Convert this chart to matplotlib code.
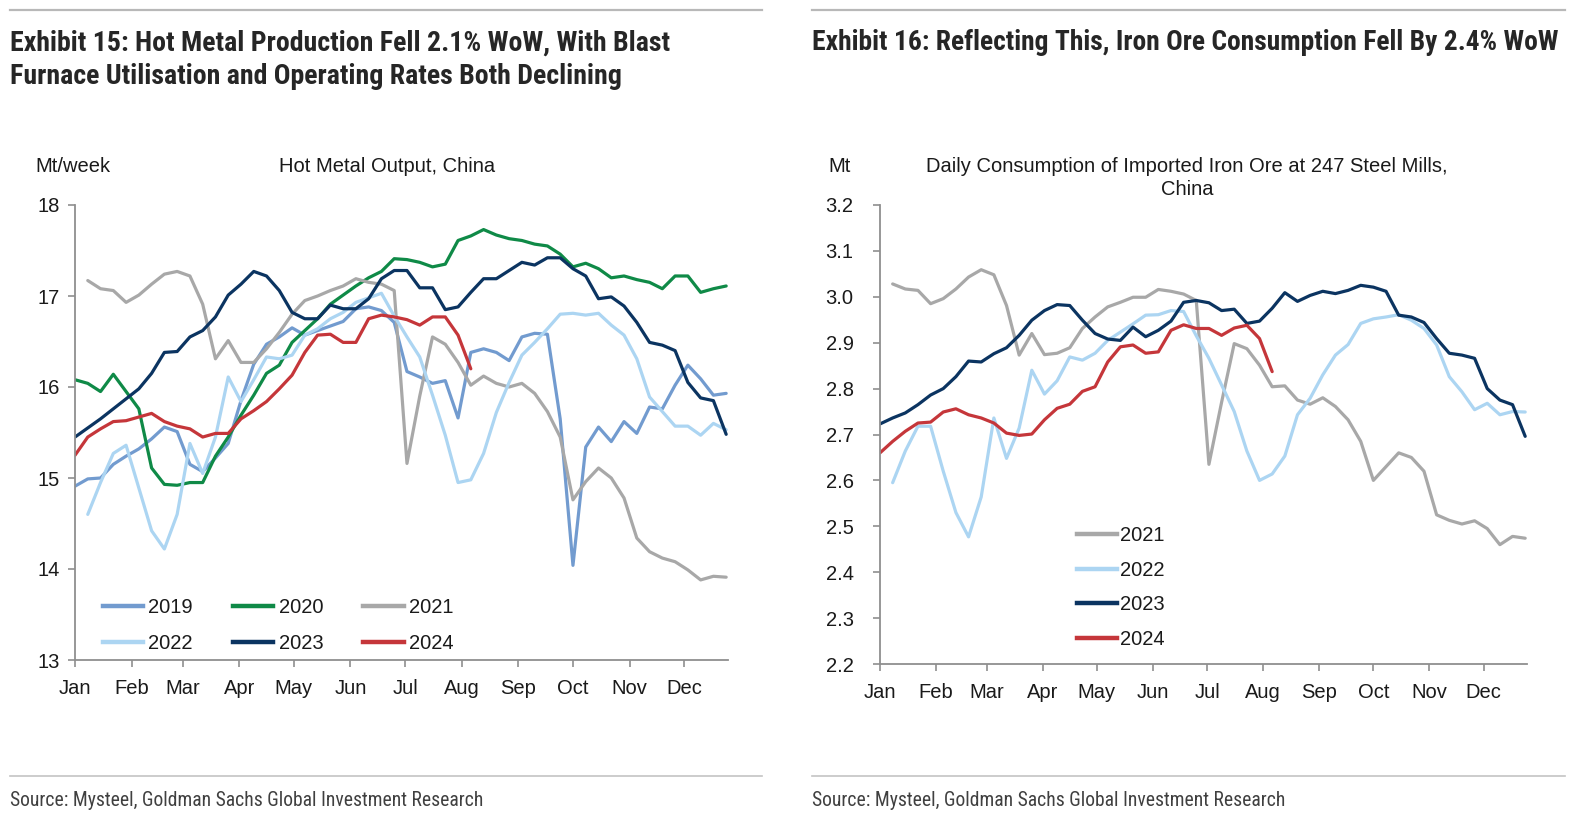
import numpy as np
import matplotlib
matplotlib.use("Agg")
import matplotlib.pyplot as plt
from matplotlib import font_manager
from matplotlib.lines import Line2D

nan = np.nan

# ---------------- data ----------------
months = ["Jan", "Feb", "Mar", "Apr", "May", "Jun", "Jul", "Aug", "Sep", "Oct", "Nov", "Dec"]
month_start_day = [0, 31, 59, 90, 120, 151, 181, 212, 243, 273, 304, 334]
n_weeks = 52
week_day = [7 * k for k in range(n_weeks)]

years_left = ["2019", "2020", "2021", "2022", "2023", "2024"]
hm_2019 = [14.91, 14.99, 15.00, 15.15, 15.24, 15.32, 15.43, 15.56, 15.51, 15.15, 15.07, 15.22, 15.38,
           15.85, 16.25, 16.47, 16.55, 16.65, 16.57, 16.62, 16.67, 16.72, 16.86, 16.88, 16.84, 16.71,
           16.17, 16.11, 16.04, 16.07, 15.66, 16.38, 16.42, 16.38, 16.29, 16.55, 16.59, 16.58, 15.65,
           14.04, 15.34, 15.56, 15.40, 15.62, 15.49, 15.78, 15.76, 16.02, 16.24, 16.09, 15.91, 15.93]
hm_2020 = [16.08, 16.04, 15.95, 16.14, 15.95, 15.76, 15.11, 14.93, 14.92, 14.95, 14.95, 15.24, 15.45,
           15.69, 15.91, 16.15, 16.24, 16.49, 16.62, 16.75, 16.91, 17.01, 17.11, 17.20, 17.27, 17.41,
           17.40, 17.37, 17.32, 17.35, 17.61, 17.66, 17.73, 17.67, 17.63, 17.61, 17.57, 17.55, 17.46,
           17.32, 17.36, 17.30, 17.20, 17.22, 17.18, 17.15, 17.08, 17.22, 17.22, 17.04, 17.08, 17.11]
hm_2021 = [nan, 17.17, 17.08, 17.06, 16.93, 17.01, 17.13, 17.24, 17.27, 17.22, 16.91, 16.31, 16.51,
           16.27, 16.27, 16.42, 16.60, 16.80, 16.95, 17.00, 17.06, 17.11, 17.19, 17.15, 17.13, 17.06,
           15.16, 15.90, 16.55, 16.47, 16.27, 16.02, 16.12, 16.04, 16.00, 16.04, 15.93, 15.73, 15.45,
           14.76, 14.96, 15.11, 15.00, 14.78, 14.34, 14.19, 14.12, 14.08, 13.99, 13.88, 13.92, 13.91]
hm_2022 = [nan, 14.60, 14.95, 15.27, 15.36, 14.89, 14.42, 14.22, 14.60, 15.38, 15.05, 15.45, 16.11,
           15.84, 16.08, 16.33, 16.31, 16.35, 16.57, 16.64, 16.75, 16.82, 16.93, 16.98, 17.03, 16.78,
           16.55, 16.33, 15.91, 15.47, 14.95, 14.98, 15.27, 15.72, 16.05, 16.35, 16.49, 16.64, 16.80,
           16.81, 16.79, 16.81, 16.68, 16.57, 16.31, 15.89, 15.73, 15.57, 15.57, 15.47, 15.60, 15.53]
hm_2023 = [15.45, 15.55, 15.65, 15.76, 15.87, 15.98, 16.15, 16.38, 16.39, 16.55, 16.62, 16.77, 17.01,
           17.13, 17.27, 17.22, 17.06, 16.82, 16.75, 16.75, 16.90, 16.86, 16.86, 16.97, 17.19, 17.28,
           17.28, 17.09, 17.09, 16.85, 16.88, 17.04, 17.19, 17.19, 17.28, 17.37, 17.34, 17.42, 17.42,
           17.30, 17.22, 16.97, 16.99, 16.89, 16.71, 16.49, 16.46, 16.40, 16.05, 15.88, 15.85, 15.48]
hm_2024 = [15.25, 15.45, 15.54, 15.62, 15.63, 15.67, 15.71, 15.62, 15.57, 15.54, 15.45, 15.49, 15.49,
           15.65, 15.74, 15.84, 15.98, 16.13, 16.38, 16.57, 16.58, 16.49, 16.49, 16.75, 16.79, 16.77,
           16.74, 16.68, 16.77, 16.77, 16.57, 16.20]

years_right = ["2021", "2022", "2023", "2024"]
io_2021 = [nan, 3.028, 3.017, 3.014, 2.985, 2.996, 3.017, 3.043, 3.059, 3.048, 2.981, 2.873, 2.920,
           2.874, 2.877, 2.889, 2.931, 2.956, 2.978, 2.988, 2.999, 2.999, 3.016, 3.012, 3.006, 2.992,
           2.635, 2.770, 2.898, 2.887, 2.851, 2.804, 2.806, 2.775, 2.766, 2.780, 2.761, 2.732, 2.685,
           2.600, 2.630, 2.660, 2.650, 2.620, 2.525, 2.513, 2.505, 2.512, 2.495, 2.460, 2.478, 2.474]
io_2022 = [nan, 2.595, 2.664, 2.718, 2.718, 2.620, 2.530, 2.477, 2.564, 2.736, 2.648, 2.714, 2.840,
           2.788, 2.817, 2.869, 2.862, 2.877, 2.905, 2.923, 2.941, 2.960, 2.961, 2.970, 2.968, 2.915,
           2.866, 2.808, 2.750, 2.664, 2.600, 2.614, 2.653, 2.743, 2.779, 2.830, 2.873, 2.896, 2.942,
           2.952, 2.956, 2.961, 2.949, 2.931, 2.895, 2.826, 2.793, 2.754, 2.768, 2.743, 2.750, 2.749]
io_2023 = [2.723, 2.736, 2.747, 2.765, 2.786, 2.800, 2.826, 2.860, 2.858, 2.876, 2.889, 2.916, 2.949,
           2.970, 2.983, 2.981, 2.949, 2.920, 2.908, 2.905, 2.934, 2.913, 2.927, 2.947, 2.988, 2.992,
           2.987, 2.970, 2.973, 2.942, 2.947, 2.975, 3.009, 2.990, 3.003, 3.012, 3.007, 3.014, 3.025,
           3.021, 3.012, 2.960, 2.956, 2.944, 2.909, 2.877, 2.873, 2.866, 2.800, 2.775, 2.765, 2.696]
io_2024 = [2.660, 2.685, 2.707, 2.725, 2.727, 2.749, 2.756, 2.743, 2.736, 2.725, 2.703, 2.698, 2.701,
           2.732, 2.757, 2.766, 2.794, 2.804, 2.858, 2.891, 2.895, 2.877, 2.880, 2.927, 2.939, 2.931,
           2.931, 2.916, 2.932, 2.938, 2.909, 2.837]

left_ticks = [13, 14, 15, 16, 17, 18]
right_ticks = [2.2, 2.3, 2.4, 2.5, 2.6, 2.7, 2.8, 2.9, 3.0, 3.1, 3.2]

colors = {"2019": "#729bcf", "2020": "#0f8a47", "2021": "#a8a8a8",
          "2022": "#acd5f2", "2023": "#0b3461", "2024": "#c5363a"}

# ---------------- fonts ----------------
avail = {f.name for f in font_manager.fontManager.ttflist}
cond_family = None
cond_stretch = "normal"
for cand in ["Liberation Sans Narrow", "Roboto Condensed", "Open Sans Condensed", "DejaVu Sans"]:
    if cand in avail:
        cond_family = cand
        break
if cond_family == "DejaVu Sans":
    cond_stretch = "condensed"
body_font = "Liberation Sans" if "Liberation Sans" in avail else "DejaVu Sans"
plt.rcParams["font.family"] = [body_font, "DejaVu Sans"]

W, H = 1575, 824
fig = plt.figure(figsize=(W / 100, H / 100), dpi=100)
renderer = fig.canvas.get_renderer()

TXT = "#1a1a1a"
AXC = "#8f8f8f"


def fx(px):
    return px / W


def fy(py):
    return 1 - py / H


def fit_text(x, y, s, width_px, size0, **kw):
    t = fig.text(fx(x), fy(y), s, fontsize=size0, **kw)
    w = t.get_window_extent(renderer).width
    t.set_fontsize(size0 * width_px / w)
    return t


# rules
for (x0, x1) in [(10, 762), (812, 1565)]:
    fig.add_artist(Line2D([fx(x0), fx(x1)], [fy(10), fy(10)], color="#b8b8b8", lw=1.6))
    fig.add_artist(Line2D([fx(x0), fx(x1)], [fy(776), fy(776)], color="#c4c4c4", lw=1.2))

# titles
tkw = dict(family=cond_family, fontstretch=cond_stretch, fontweight="bold", color="#262626",
           va="center", ha="left")
t1 = fit_text(10, 43, "Exhibit 15: Hot Metal Production Fell 2.1% WoW, With Blast", 660, 18, **tkw)
fig.text(fx(10), fy(76), "Furnace Utilisation and Operating Rates Both Declining",
         fontsize=t1.get_fontsize(), **tkw)
fit_text(812, 43, "Exhibit 16: Reflecting This, Iron Ore Consumption Fell By 2.4% WoW", 748, 18, **tkw)

skw = dict(family=cond_family, fontstretch=cond_stretch, color="#404040", va="center", ha="left")
s1 = fit_text(10, 801, "Source: Mysteel, Goldman Sachs Global Investment Research", 476, 14, **skw)
fig.text(fx(812), fy(801), "Source: Mysteel, Goldman Sachs Global Investment Research",
         fontsize=s1.get_fontsize(), **skw)

FS = 14.5
# unit labels and chart titles
fig.text(fx(35), fy(167), "Mt/week", fontsize=FS, color=TXT, ha="left", va="center")
fig.text(fx(387), fy(166), "Hot Metal Output, China", fontsize=FS, color=TXT, ha="center", va="center")
fig.text(fx(828), fy(167), "Mt", fontsize=FS, color=TXT, ha="left", va="center")
fig.text(fx(1187), fy(178), "Daily Consumption of Imported Iron Ore at 247 Steel Mills,\nChina",
         fontsize=FS, color=TXT, ha="center", va="center", linespacing=1.3)


def style_axes(ax, ypad):
    for side in ["top", "right"]:
        ax.spines[side].set_visible(False)
    for side in ["left", "bottom"]:
        ax.spines[side].set_color(AXC)
        ax.spines[side].set_linewidth(1.3)
    ax.tick_params(axis="both", colors=AXC, labelcolor=TXT, labelsize=FS, length=5, width=1.2)
    ax.tick_params(axis="y", pad=ypad)
    ax.tick_params(axis="x", pad=9)
    ax.set_xticks(month_start_day)
    ax.set_xticklabels(months)
    ax.set_xlim(0, week_day[-1] + 1)


# left chart
axL = fig.add_axes([fx(75), fy(660), (728 - 75) / W, (660 - 205) / H])
left_series = [hm_2019, hm_2020, hm_2021, hm_2022, hm_2023, hm_2024]
for yr, vals in zip(years_left, left_series):
    axL.plot(week_day[:len(vals)], vals, color=colors[yr], lw=2.3, solid_joinstyle="round",
             solid_capstyle="round", label=yr)
axL.set_ylim(13, 18)
axL.set_yticks(left_ticks)
style_axes(axL, 6)
order = ["2019", "2022", "2020", "2023", "2021", "2024"]
legL = axL.legend([Line2D([], [], color=colors[y], lw=3.2) for y in order], order, ncol=3,
                  loc="upper left", bbox_to_anchor=((103 - 75) / 653, (660 - 598) / 455),
                  frameon=False, fontsize=FS, handlelength=2.0, handletextpad=0.25,
                  columnspacing=2.0, labelspacing=0.85, borderpad=0, borderaxespad=0)
for t in legL.get_texts():
    t.set_color(TXT)

# right chart
axR = fig.add_axes([fx(880), fy(664), (1527 - 880) / W, (664 - 205) / H])
right_series = [io_2021, io_2022, io_2023, io_2024]
for yr, vals in zip(years_right, right_series):
    axR.plot(week_day[:len(vals)], vals, color=colors[yr], lw=2.3, solid_joinstyle="round",
             solid_capstyle="round", label=yr)
axR.set_ylim(2.2, 3.2)
axR.set_yticks(right_ticks)
axR.set_yticklabels([f"{v:.1f}" for v in right_ticks])
style_axes(axR, 14)
legR = axR.legend([Line2D([], [], color=colors[y], lw=3.2) for y in years_right], years_right, ncol=1,
                  loc="upper left", bbox_to_anchor=((1077 - 880) / 647, (664 - 526) / 459),
                  frameon=False, fontsize=FS, handlelength=2.0, handletextpad=0.15,
                  labelspacing=0.78, borderpad=0, borderaxespad=0)
for t in legR.get_texts():
    t.set_color(TXT)

fig.savefig("out.png", dpi=100, facecolor="white")
